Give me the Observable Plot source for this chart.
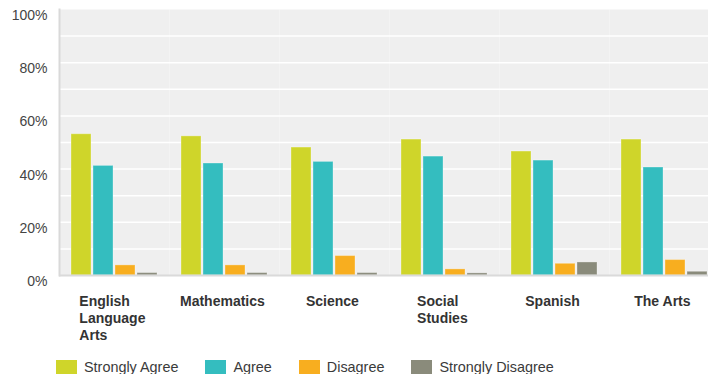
<!DOCTYPE html>
<html>
<head>
<meta charset="utf-8">
<script src="https://cdn.jsdelivr.net/npm/d3@7"></script>
<script src="https://cdn.jsdelivr.net/npm/@observablehq/plot@0.6"></script>
<style>
  html, body { margin: 0; padding: 0; background: #fff; overflow: hidden; }
  body { font-family: "Liberation Sans", Arial, sans-serif; }
  #chart svg { display: block; }
  body .lg-swatches {
    font-family: "Liberation Sans", Arial, sans-serif;
    font-size: 14.4px;
    color: #3a3a3a;
    margin: 14px 0 0 56px;
    min-height: 0;
    height: 15px;
    align-items: center;
  }
  body .lg-swatch { margin-right: 27px; }
  body .lg-swatch > svg { margin-right: 7px; border-radius: 3px; }
</style>
</head>
<body>
<div id="chart"></div>
<script>
// Survey responses by subject, percent of respondents
const subjects = ["English Language Arts", "Mathematics", "Science", "Social Studies", "Spanish", "The Arts"];
const subjectLabels = ["English\nLanguage\nArts", "Mathematics", "Science", "Social\nStudies", "Spanish", "The Arts"];
const responses = ["Strongly Agree", "Agree", "Disagree", "Strongly Disagree"];
const responseColors = ["#cfd52a", "#34bdbf", "#f8ae1f", "#8a8b7b"];

const stronglyAgree    = [53.1, 52.3, 48.1, 51.1, 46.6, 51.1];
const agree            = [41.2, 42.1, 42.7, 44.7, 43.2, 40.6];
const disagree         = [3.8, 3.8, 7.3, 2.3, 4.4, 5.8];
const stronglyDisagree = [0.9, 0.9, 0.9, 0.8, 4.9, 1.4];

const yTicks = [0, 20, 40, 60, 80, 100];
const gridTicks = [10, 20, 30, 40, 50, 60, 70, 80, 90];

const series = [stronglyAgree, agree, disagree, stronglyDisagree];
const rows = subjects.flatMap((subject, i) =>
  responses.map((response, j) => ({subject, response, value: series[j][i]}))
);
const labelOf = new Map(subjects.map((s, i) => [s, subjectLabels[i]]));

const fullWidth = 719, shownWidth = 708, H = 345;
const font = "'Liberation Sans', Arial, sans-serif";

const chart = Plot.plot({
  width: fullWidth,
  height: H,
  marginLeft: 59,
  marginRight: 0,
  marginTop: 9,
  marginBottom: 70,
  style: {fontFamily: font, background: "white"},
  fx: {domain: subjects, padding: 0, label: null},
  x: {domain: responses, paddingInner: 0.09, paddingOuter: 0.5, axis: null},
  y: {domain: [0, 100]},
  color: {domain: responses, range: responseColors},
  marks: [
    Plot.frame({fill: "#efefef", stroke: null}),
    Plot.gridY(gridTicks, {stroke: "white", strokeOpacity: 1, strokeWidth: 1.5}),
    Plot.barY(rows, {
      fx: "subject", x: "response", y: "value", fill: "response",
      stroke: "white", strokeOpacity: 0.3, strokeWidth: 1
    }),
    Plot.ruleY([0], {stroke: "#dadada", strokeWidth: 2}),
    Plot.frame({anchor: "left", stroke: "#d9d9d9", strokeWidth: 2, facetAnchor: "left"}),
    Plot.axisY(yTicks, {
      tickSize: 0, tickPadding: 12, dy: 6, fontSize: 14, fill: "#444",
      tickFormat: d => d + "%", label: null
    }),
    Plot.axisFx({
      anchor: "bottom", tickSize: 0, tickPadding: 19, dx: -2, fontSize: 14, fontWeight: "bold",
      fill: "#333", lineAnchor: "top", lineHeight: 1.2, label: null,
      tickFormat: d => labelOf.get(d)
    })
  ]
});

// show the first 708px of the drawing
chart.setAttribute("width", shownWidth);
chart.setAttribute("viewBox", `0 0 ${shownWidth} ${H}`);
document.getElementById("chart").appendChild(chart);

// subject labels: lines left-aligned inside a block centred under each group
chart.querySelectorAll('g[aria-label="fx-axis tick label"] text').forEach(t => {
  t.setAttribute("text-anchor", "start");
  const w = t.getBBox().width;
  const tr = t.getAttribute("transform") || "";
  t.setAttribute("transform", `${tr} translate(${-w / 2},0)`);
});

const legend = Plot.legend({
  color: {domain: responses, range: responseColors},
  swatchWidth: 21,
  swatchHeight: 15,
  className: "lg"
});
document.getElementById("chart").appendChild(legend);
</script>
</body>
</html>
